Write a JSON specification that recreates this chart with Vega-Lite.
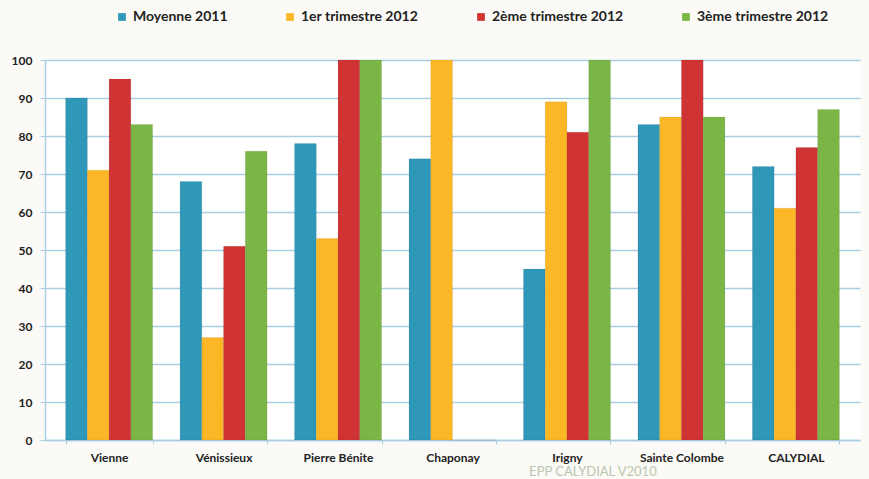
{
  "$schema": "https://vega.github.io/schema/vega-lite/v6.json",
  "autosize": "none",
  "width": 815,
  "height": 380,
  "padding": {"left": 45, "top": 60, "right": 9, "bottom": 39},
  "background": "#fbfaf7",
  "config": {
    "view": {"stroke": null, "fill": "#ffffff"},
    "font": "Lato"
  },
  "title": {
    "text": "EPP CALYDIAL V2010",
    "orient": "bottom",
    "anchor": "start",
    "dx": 518,
    "offset": 3,
    "fontSize": 13,
    "fontWeight": "normal",
    "color": "#b9c8ad",
    "font": "Lato"
  },
  "data": {
    "values": [
      {"site": "Vienne", "serie": "Moyenne 2011", "valeur": 90},
      {"site": "Vienne", "serie": "1er trimestre 2012", "valeur": 71},
      {"site": "Vienne", "serie": "2ème trimestre 2012", "valeur": 95},
      {"site": "Vienne", "serie": "3ème trimestre 2012", "valeur": 83},
      {"site": "Vénissieux", "serie": "Moyenne 2011", "valeur": 68},
      {"site": "Vénissieux", "serie": "1er trimestre 2012", "valeur": 27},
      {"site": "Vénissieux", "serie": "2ème trimestre 2012", "valeur": 51},
      {"site": "Vénissieux", "serie": "3ème trimestre 2012", "valeur": 76},
      {"site": "Pierre Bénite", "serie": "Moyenne 2011", "valeur": 78},
      {"site": "Pierre Bénite", "serie": "1er trimestre 2012", "valeur": 53},
      {"site": "Pierre Bénite", "serie": "2ème trimestre 2012", "valeur": 100},
      {"site": "Pierre Bénite", "serie": "3ème trimestre 2012", "valeur": 100},
      {"site": "Chaponay", "serie": "Moyenne 2011", "valeur": 74},
      {"site": "Chaponay", "serie": "1er trimestre 2012", "valeur": 100},
      {"site": "Chaponay", "serie": "2ème trimestre 2012", "valeur": 0},
      {"site": "Chaponay", "serie": "3ème trimestre 2012", "valeur": 0},
      {"site": "Irigny", "serie": "Moyenne 2011", "valeur": 45},
      {"site": "Irigny", "serie": "1er trimestre 2012", "valeur": 89},
      {"site": "Irigny", "serie": "2ème trimestre 2012", "valeur": 81},
      {"site": "Irigny", "serie": "3ème trimestre 2012", "valeur": 100},
      {"site": "Sainte Colombe", "serie": "Moyenne 2011", "valeur": 83},
      {"site": "Sainte Colombe", "serie": "1er trimestre 2012", "valeur": 85},
      {"site": "Sainte Colombe", "serie": "2ème trimestre 2012", "valeur": 100},
      {"site": "Sainte Colombe", "serie": "3ème trimestre 2012", "valeur": 85},
      {"site": "CALYDIAL", "serie": "Moyenne 2011", "valeur": 72},
      {"site": "CALYDIAL", "serie": "1er trimestre 2012", "valeur": 61},
      {"site": "CALYDIAL", "serie": "2ème trimestre 2012", "valeur": 77},
      {"site": "CALYDIAL", "serie": "3ème trimestre 2012", "valeur": 87}
    ]
  },
  "mark": {"type": "bar", "stroke": "#00000022", "strokeWidth": 0.5},
  "encoding": {
    "x": {
      "field": "site",
      "type": "nominal",
      "sort": null,
      "scale": {"paddingInner": 0.24, "paddingOuter": 0.18},
      "axis": {
        "title": null,
        "labelAngle": 0,
        "labelFont": "Lato",
        "labelFontWeight": "bold",
        "labelFontSize": 12,
        "labelColor": "#222222",
        "labelPadding": 8,
        "domainColor": "#a9cde3",
        "domainWidth": 1.5,
        "tickColor": "#a9cde3",
        "tickSize": 4,
        "tickBand": "extent"
      }
    },
    "xOffset": {
      "field": "serie",
      "type": "nominal",
      "sort": ["Moyenne 2011", "1er trimestre 2012", "2ème trimestre 2012", "3ème trimestre 2012"],
      "scale": {"paddingInner": 0}
    },
    "y": {
      "field": "valeur",
      "type": "quantitative",
      "scale": {"domain": [0, 100]},
      "axis": {
        "title": null,
        "values": [0, 10, 20, 30, 40, 50, 60, 70, 80, 90, 100],
        "labelFont": "Lato",
        "labelFontWeight": "bold",
        "labelFontSize": 12,
        "labelColor": "#222222",
        "labelPadding": 8,
        "domainColor": "#a9cde3",
        "domainWidth": 1.5,
        "tickColor": "#a9cde3",
        "tickSize": 5,
        "gridColor": "#a9cde3",
        "gridWidth": 1.5
      }
    },
    "color": {
      "field": "serie",
      "type": "nominal",
      "sort": ["Moyenne 2011", "1er trimestre 2012", "2ème trimestre 2012", "3ème trimestre 2012"],
      "scale": {
        "domain": ["Moyenne 2011", "1er trimestre 2012", "2ème trimestre 2012", "3ème trimestre 2012"],
        "range": ["#2f97b8", "#fbb726", "#d03333", "#7ab545"]
      },
      "legend": {
        "title": null,
        "orient": "none",
        "legendX": 70,
        "legendY": -50,
        "direction": "horizontal",
        "symbolType": "square",
        "symbolSize": 60,
        "symbolStrokeWidth": 0,
        "labelFont": "Lato",
        "labelFontWeight": "bold",
        "labelFontSize": 14,
        "labelColor": "#222222",
        "labelOffset": 4,
        "columnPadding": 55
      }
    }
  }
}
